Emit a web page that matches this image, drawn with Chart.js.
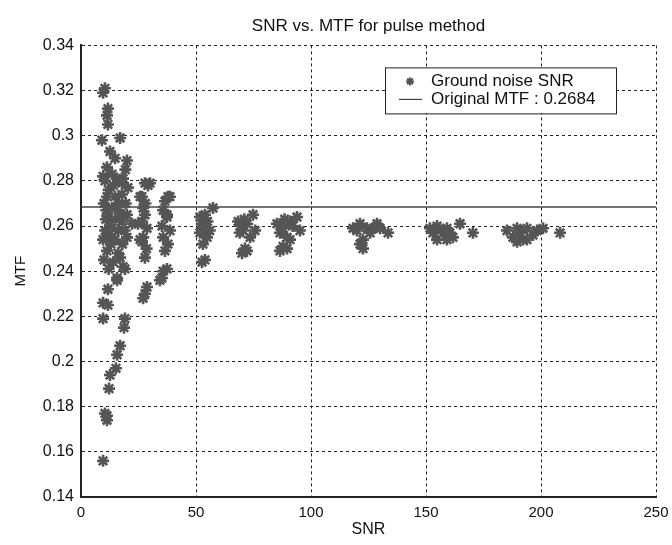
<!DOCTYPE html>
<html>
<head>
<meta charset="utf-8">
<script src="https://cdn.jsdelivr.net/npm/chart.js@4"></script>
<style>
  html, body { margin: 0; padding: 0; background: #fff; }
  #wrap { width: 672px; height: 545px; }
</style>
</head>
<body>
<div id="wrap"><canvas id="mtfChart" width="672" height="545"></canvas></div>
<script>
// SNR / MTF samples (star markers)
const snrValues = [
    9.6, 10.4, 11.3, 11.3, 12.2, 12.6, 15.2, 15.7, 17.0, 18.7, 19.1, 9.6, 9.6, 11.7, 11.7, 15.7, 18.3,
    10.4, 9.6, 11.7, 11.3, 11.7, 9.1, 17.0, 12.6, 14.8, 20.0, 11.3, 13.5, 15.7, 17.8, 10.4, 20.4, 18.3, 9.6,
    11.3, 14.8, 17.8, 13.5, 16.1, 11.7, 17.8, 13.5, 16.1, 9.6, 14.8, 11.3, 16.1, 19.1, 15.7,
    10.0, 12.0, 19.5, 20.0, 19.0, 12.5, 10.5, 13.0, 18.0, 10.0, 14.0, 17.0, 12.0, 20.0, 22.2, 15.0, 12.0, 18.5, 10.8, 16.5, 14.0, 11.0, 19.3,
    27.8, 29.1, 26.5, 27.0, 27.8, 28.7, 27.0, 26.5, 27.8, 27.0, 27.8, 28.7, 26.5, 30.0, 28.0, 28.5, 24.8, 25.7, 25.7,
    37.8, 36.5, 35.7, 37.4, 35.2, 38.7, 35.7, 37.8, 36.5, 35.7, 35.2, 34.3, 37.4, 38.7, 37.4,
    53.9, 57.4, 51.7, 52.6, 56.0, 51.7, 54.8, 53.0, 53.9, 52.6, 55.0, 52.5,
    68.3, 72.2, 74.8, 70.4, 75.7, 69.0, 73.5, 71.3, 70.0, 72.2, 71.0, 69.5,
    85.2, 87.8, 90.9, 93.9, 95.2, 86.5, 89.6, 90.9, 87.8, 86.5, 89.6, 88.5, 92.0,
    118.3, 121.3, 124.3, 128.7, 130.0, 125.7, 122.6, 121.3, 122.6, 133.5, 120.0, 127.0,
    151.7, 154.8, 159.1, 164.8, 153.0, 157.4, 160.4, 154.8, 159.1, 161.7, 170.4, 156.0,
    185.2, 189.6, 193.9, 198.3, 200.9, 187.8, 192.2, 196.5, 189.6, 193.9, 208.3, 191.0
];
const mtfValues = [
    0.156, 0.177, 0.174, 0.176, 0.188, 0.194, 0.197, 0.203, 0.207, 0.215, 0.219, 0.219, 0.226, 0.225, 0.232, 0.236, 0.242,
    0.321, 0.319, 0.312, 0.309, 0.305, 0.298, 0.299, 0.293, 0.290, 0.289, 0.286, 0.283, 0.281, 0.279, 0.280, 0.277, 0.281, 0.282,
    0.273, 0.273, 0.274, 0.268, 0.267, 0.264, 0.262, 0.259, 0.258, 0.254, 0.254, 0.249, 0.248, 0.241, 0.237,
    0.270, 0.276, 0.270, 0.265, 0.258, 0.262, 0.258, 0.252, 0.252, 0.245, 0.244, 0.246, 0.241, 0.255, 0.261, 0.263, 0.256, 0.265, 0.263, 0.270, 0.278, 0.267, 0.285,
    0.279, 0.278, 0.273, 0.268, 0.265, 0.259, 0.255, 0.253, 0.246, 0.228, 0.230, 0.233, 0.262, 0.279, 0.270, 0.250, 0.261, 0.254, 0.273,
    0.273, 0.271, 0.267, 0.264, 0.260, 0.258, 0.255, 0.252, 0.249, 0.240, 0.237, 0.236, 0.241, 0.273, 0.265,
    0.265, 0.268, 0.264, 0.259, 0.258, 0.257, 0.255, 0.252, 0.245, 0.244, 0.262, 0.261,
    0.262, 0.261, 0.265, 0.258, 0.258, 0.257, 0.255, 0.250, 0.248, 0.249, 0.263, 0.260,
    0.261, 0.259, 0.262, 0.264, 0.258, 0.257, 0.255, 0.254, 0.251, 0.249, 0.250, 0.263, 0.260,
    0.259, 0.261, 0.259, 0.261, 0.259, 0.257, 0.254, 0.252, 0.250, 0.257, 0.258, 0.259,
    0.259, 0.260, 0.259, 0.261, 0.257, 0.257, 0.257, 0.254, 0.254, 0.255, 0.257, 0.259,
    0.258, 0.259, 0.259, 0.258, 0.259, 0.255, 0.254, 0.256, 0.253, 0.254, 0.257, 0.257
];

// reference line
const originalMtf = 0.2684;
const lineSnr = [0, 250];

const seriesLabels = ['Ground noise SNR', 'Original MTF : ' + originalMtf];

const FONT = "'Liberation Sans', Arial, sans-serif";

// Legend drawn inside the axes, like matlab's default NorthEast box
const boxLegend = {
    id: 'boxLegend',
    afterDraw(chart) {
        const ctx = chart.ctx;
        const area = chart.chartArea;
        const w = 231, h = 46;
        const x0 = area.right - 40 - w;
        const y0 = area.top + 22;
        const ds = chart.data.datasets;
        ctx.save();
        ctx.fillStyle = '#fff';
        ctx.fillRect(x0, y0, w, h);
        ctx.strokeStyle = '#222';
        ctx.lineWidth = 1;
        ctx.strokeRect(x0 + 0.5, y0 + 0.5, w, h);

        // marker entry
        ctx.strokeStyle = ds[0].borderColor;
        ctx.fillStyle = ds[0].borderColor;
        ctx.lineWidth = 2;
        Chart.helpers.drawPoint(ctx, { pointStyle: 'star', radius: 4, borderWidth: 2 }, x0 + 25, y0 + 14);
        // line entry
        ctx.strokeStyle = ds[1].borderColor;
        ctx.lineWidth = 1.2;
        ctx.beginPath();
        ctx.moveTo(x0 + 14, y0 + 32);
        ctx.lineTo(x0 + 37, y0 + 32);
        ctx.stroke();

        ctx.fillStyle = '#111';
        ctx.font = '17px ' + FONT;
        ctx.textBaseline = 'middle';
        ctx.fillText(ds[0].label, x0 + 46, y0 + 14);
        ctx.fillText(ds[1].label, x0 + 46, y0 + 32);
        ctx.restore();
    }
};

const ctx = document.getElementById('mtfChart').getContext('2d');
const mtfChart = new Chart(ctx, {
    type: 'scatter',
    data: {
        datasets: [{
            label: seriesLabels[0],
            data: snrValues.map((s, i) => ({ x: s, y: mtfValues[i] })),
            pointStyle: 'star',
            pointRadius: 6,
            pointBorderWidth: 2.6,
            borderColor: '#555',
            backgroundColor: '#555',
            showLine: false
        }, {
            label: seriesLabels[1],
            data: lineSnr.map(s => ({ x: s, y: originalMtf })),
            type: 'line',
            showLine: true,
            borderColor: '#444',
            borderWidth: 1.5,
            pointRadius: 0,
            fill: false
        }]
    },
    options: {
        responsive: false,
        animation: false,
        devicePixelRatio: 1,
        layout: { padding: { left: 12, right: 16, top: 0, bottom: 6 } },
        plugins: {
            legend: { display: false },
            tooltip: { enabled: false },
            title: {
                display: true,
                fullSize: false,
                text: 'SNR vs. MTF for pulse method',
                color: '#111',
                font: { family: FONT, size: 17, weight: 'normal' },
                padding: { top: 16, bottom: 9 }
            }
        },
        scales: {
            x: {
                type: 'linear',
                min: 0,
                max: 250,
                ticks: {
                    stepSize: 50,
                    color: '#111',
                    padding: 7,
                    font: { family: FONT, size: 15 }
                },
                grid: { color: '#222', lineWidth: 1, drawTicks: false },
                border: { display: true, color: '#222', width: 2, dash: [3, 3] },
                title: {
                    display: true,
                    text: 'SNR',
                    color: '#111',
                    font: { family: FONT, size: 16 },
                    padding: { top: 0, bottom: 0 }
                },
                afterFit(scale) {
                    scale.height = 42;
                    scale.paddingLeft = 0;
                    scale.paddingRight = 0;
                }
            },
            y: {
                type: 'linear',
                min: 0.14,
                max: 0.34,
                ticks: {
                    stepSize: 0.02,
                    color: '#111',
                    padding: 7,
                    font: { family: FONT, size: 16 },
                    callback: v => Number(v.toFixed(2)).toString()
                },
                grid: { color: '#222', lineWidth: 1, drawTicks: false },
                border: { display: true, color: '#222', width: 2, dash: [3, 3] },
                title: {
                    display: true,
                    text: 'MTF',
                    color: '#111',
                    font: { family: FONT, size: 15 },
                    padding: { top: 0, bottom: 0 }
                },
                afterFit(scale) { scale.width = 69; }
            }
        }
    },
    plugins: [boxLegend]
});
</script>
</body>
</html>
